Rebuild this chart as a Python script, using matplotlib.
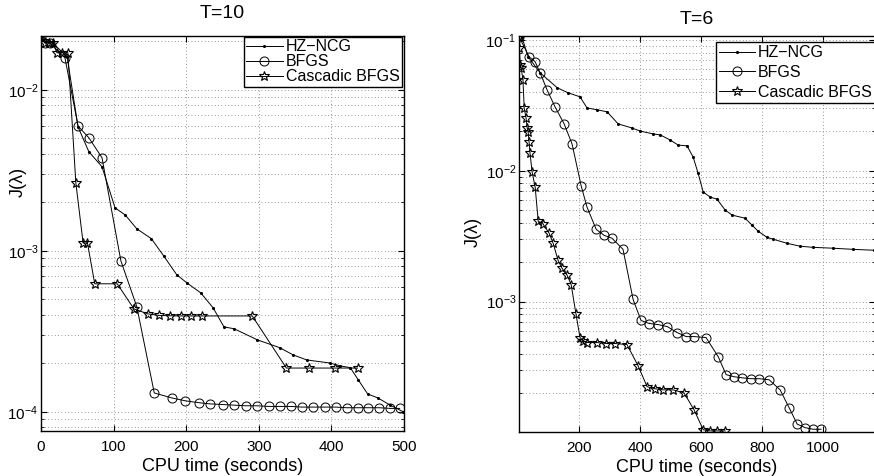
import numpy as np
import matplotlib
matplotlib.use('Agg')
import matplotlib.pyplot as plt

plt.rcParams['font.family'] = ['Liberation Sans', 'DejaVu Sans']
plt.rcParams['mathtext.default'] = 'regular'

# T=10 panel
hz10_t = [0, 16, 36, 51, 66, 84, 102, 116, 132, 152, 169, 187, 201, 220, 237, 252, 266, 298, 329, 347, 366, 398, 412, 426, 437, 450, 464, 481, 499]
hz10_j = [0.0216, 0.0196, 0.016, 0.00589, 0.00412, 0.00333, 0.00185, 0.00167, 0.00137, 0.00119, 0.00093, 0.00071, 0.000632, 0.000548, 0.000443,
          0.000337, 0.000328, 0.00028, 0.00025, 0.000226, 0.00021, 0.000201, 0.000193, 0.000188, 0.000158, 0.000129, 0.000122, 0.00011, 0.0001]
bfgs10_t = [0, 5, 12, 33, 51, 66, 84, 110, 132, 156, 180, 199, 217, 233, 250, 266, 282, 297, 314, 329, 344, 359, 375, 391, 406, 421, 436, 451, 466, 481, 494]
bfgs10_j = [0.0216, 0.0196, 0.0196, 0.0158, 0.00597, 0.00503, 0.00379, 0.000867, 0.000449, 0.000131, 0.000122, 0.000117, 0.000114, 0.000112, 0.000111,
            0.00011, 0.000109, 0.000109, 0.000108, 0.000108, 0.000108, 0.000107, 0.000107, 0.000107, 0.000107, 0.000106, 0.000106, 0.000106, 0.000106, 0.000105, 0.000105]
casc10_t = [0, 5, 11, 16, 22, 29, 37, 48, 58, 64, 74, 105, 128, 147, 163, 178, 193, 207, 222, 291, 338, 369, 405, 436]
casc10_j = [0.0216, 0.0196, 0.0196, 0.0196, 0.017, 0.017, 0.017, 0.00264, 0.00112, 0.00112, 0.000624, 0.000624, 0.000436, 0.000406, 0.000397, 0.000395,
            0.000394, 0.000394, 0.000394, 0.000394, 0.000187, 0.000187, 0.000187, 0.000187]

# T=6 panel
hz6_t = [12, 33, 72, 128, 164, 203, 226, 259, 292, 328, 374, 400, 443, 466, 498, 525, 554, 574, 590, 607, 630, 652, 679, 702, 744, 767, 787, 816, 836, 882, 925, 967, 1033, 1098, 1167]
hz6_j = [0.106, 0.0743, 0.0561, 0.0431, 0.0394, 0.0367, 0.0302, 0.0292, 0.0282, 0.0228, 0.0212, 0.0201, 0.0191, 0.0188, 0.0172, 0.0157, 0.0155, 0.0127,
         0.0096, 0.00687, 0.00629, 0.00607, 0.005, 0.00458, 0.00434, 0.00384, 0.00345, 0.0031, 0.003, 0.00279, 0.00265, 0.0026, 0.00256, 0.00251, 0.00247]
bfgs6_t = [3, 36, 56, 72, 95, 121, 151, 177, 207, 226, 256, 282, 308, 344, 377, 403, 430, 459, 489, 521, 551, 577, 616, 656, 682, 708, 734, 764, 790, 823,
           859, 889, 915, 941, 967, 993]
bfgs6_j = [0.106, 0.0743, 0.068, 0.0561, 0.0415, 0.0308, 0.0228, 0.016, 0.00763, 0.00527, 0.00357, 0.00321, 0.00305, 0.00251, 0.00104, 0.000718, 0.000681,
           0.000668, 0.000645, 0.000581, 0.000541, 0.000541, 0.000532, 0.00038, 0.000277, 0.000267, 0.000262, 0.000258, 0.000258, 0.000253, 0.000212,
           0.000154, 0.000116, 0.000109, 0.000106, 0.000106]
casc6_t = [3, 4, 7, 10, 16, 20, 26, 30, 33, 36, 39, 46, 56, 66, 82, 102, 115, 131, 144, 161, 174, 190, 203, 213, 226, 259, 289, 318, 357, 393, 423, 449,
           475, 508, 544, 577, 607, 630, 652, 679]
casc6_j = [0.106, 0.087, 0.0646, 0.0612, 0.0495, 0.0302, 0.0253, 0.0212, 0.0198, 0.0166, 0.0137, 0.00977, 0.0075, 0.00412, 0.00391, 0.00333, 0.00279,
           0.00207, 0.0018, 0.00159, 0.00135, 0.000798, 0.000532, 0.000505, 0.000487, 0.000487, 0.000479, 0.000479, 0.00047, 0.000325, 0.000224, 0.000216,
           0.000212, 0.000212, 0.000201, 0.000149, 0.000105, 0.000103, 0.000103, 0.000103]

labels = ['HZ\u2212NCG', 'BFGS', 'Cascadic BFGS']

W, H = 874, 476
fig = plt.figure(figsize=(W / 100, H / 100), dpi=100)
ax1 = fig.add_axes([41 / W, 1 - 431 / H, 363 / W, 395 / H])
ax2 = fig.add_axes([519 / W, 1 - 432 / H, 356 / W, 396 / H])


def draw(ax, hz_t, hz_j, bf_t, bf_j, cs_t, cs_j):
    ax.plot(hz_t, hz_j, 'k.-', lw=0.7, ms=2.5, label=labels[0])
    ax.plot(bf_t, bf_j, 'k-', marker='o', mfc='none', mec='k', mew=0.7, ms=6.5, lw=0.7, label=labels[1])
    ax.plot(cs_t, cs_j, 'k-', marker='*', mfc='none', mec='k', mew=0.8, ms=7.5, lw=0.7, label=labels[2])
    ax.set_yscale('log')
    ax.grid(True, which='major', axis='both', ls=(0, (1, 3)), color='0.45', lw=0.6)
    ax.grid(True, which='minor', axis='y', ls=(0, (1, 3)), color='0.45', lw=0.6)
    ax.tick_params(which='both', direction='in', top=True, right=True, labelsize=11)
    ax.tick_params(axis='x', pad=6.5)
    ax.tick_params(axis='y', pad=2)
    ax.tick_params(which='major', length=4)
    ax.tick_params(which='minor', length=2)
    for s in ax.spines.values():
        s.set_linewidth(1.0)
    ax.set_xlabel('CPU time (seconds)', fontsize=13, labelpad=3)
    ax.set_ylabel('J(\u03bb)', fontsize=13)


draw(ax1, hz10_t, hz10_j, bfgs10_t, bfgs10_j, casc10_t, casc10_j)
ax1.set_xlim(0, 500)
ax1.set_ylim(7.6e-5, 0.0216)
ax1.set_xticks([0, 100, 200, 300, 400, 500])
ax1.set_title('T=10', fontsize=14, pad=13)
ax1.yaxis.set_label_coords((27 - 41) / 363, (431 - 182) / 395)
ax1.legend(loc='upper right', bbox_to_anchor=(0.995, 0.998), fontsize=11.5, numpoints=1, handlelength=2.3,
           fancybox=False, edgecolor='k', framealpha=1, borderpad=0.15, labelspacing=0.0, handletextpad=0.2, borderaxespad=0)

draw(ax2, hz6_t, hz6_j, bfgs6_t, bfgs6_j, casc6_t, casc6_j)
ax2.set_xlim(3, 1170)
ax2.set_ylim(1.01e-4, 0.107)
ax2.set_xticks([200, 400, 600, 800, 1000])
ax2.set_title('T=6', fontsize=14, pad=9)
ax2.yaxis.set_label_coords((482 - 519) / 356, (432 - 232) / 396)
ax2.legend(loc='upper right', bbox_to_anchor=(0.9995, 0.985), fontsize=11.5, numpoints=1, handlelength=2.2,
           fancybox=False, edgecolor='k', framealpha=1, borderpad=0.2, labelspacing=0.3, handletextpad=0.2, borderaxespad=0)

fig.savefig('out.png', dpi=100)
